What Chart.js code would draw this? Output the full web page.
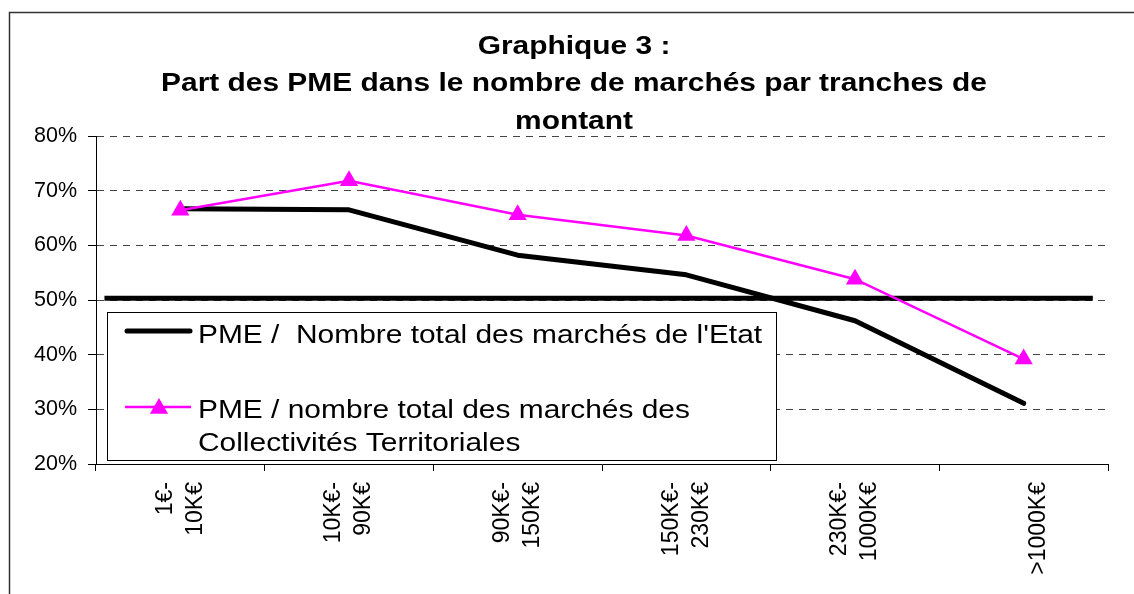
<!DOCTYPE html>
<html lang="fr">
<head>
<meta charset="utf-8">
<title>Graphique 3</title>
<script src="https://cdn.jsdelivr.net/npm/chart.js"></script>
<style>
  html, body { margin: 0; padding: 0; background: #fff; }
  canvas { display: block; }
</style>
</head>
<body>
<canvas id="chart" width="1134" height="594"></canvas>
<script>
const FONT = "'Liberation Sans', Arial, sans-serif";

const titleLines = [
  "Graphique 3 :",
  "Part des PME dans le nombre de marchés par tranches de",
  "montant",
];

// tranches de montant (libellés sur deux lignes)
const tranches = [
  ["1€-", "10K€"],
  ["10K€-", "90K€"],
  ["90K€-", "150K€"],
  ["150K€-", "230K€"],
  ["230K€-", "1000K€"],
  ["", ">1000K€"],
];

const partEtat = [66.7, 66.5, 58.2, 54.6, 46.2, 31.1];
const partCollectivites = [66.4, 71.8, 65.6, 61.8, 53.8, 39.2];

// trait horizontal des 50 %
const seuil = 50.3;
const seuilDebut = 0.05;
const seuilFin = 5.91;

const legendeEtat = ["PME /  Nombre total des marchés de l'Etat"];
const legendeCollectivites = ["PME / nombre total des marchés des", "Collectivités Territoriales"];

const yMin = 20;
const yMax = 80;
const yStep = 10;

const STRETCH = 1.15;

function stretchedText(ctx, text, x, y) {
  ctx.save();
  ctx.translate(x, y);
  ctx.scale(STRETCH, 1);
  ctx.fillText(text, 0, 0);
  ctx.restore();
}

const decor = {
  id: "decor",
  beforeDraw(chart) {
    const ctx = chart.ctx;
    ctx.save();
    ctx.fillStyle = "#fff";
    ctx.fillRect(0, 0, chart.width, chart.height);
    ctx.strokeStyle = "#333";
    ctx.lineWidth = 1.5;
    ctx.strokeRect(9.5, 12.5, chart.width + 20, chart.height + 20);
    ctx.restore();
  },
  afterDraw(chart) {
    const ctx = chart.ctx;
    ctx.save();

    // titre
    ctx.fillStyle = "#000";
    ctx.font = "bold 26px " + FONT;
    ctx.textAlign = "center";
    ctx.textBaseline = "alphabetic";
    titleLines.forEach((t, i) => stretchedText(ctx, t, 574, 53.5 + i * 37.5));

    // légende
    ctx.fillStyle = "#fff";
    ctx.fillRect(107.5, 312.5, 669, 148);
    ctx.strokeStyle = "#000";
    ctx.lineWidth = 1;
    ctx.strokeRect(107.5, 312.5, 669, 148);

    const dsEtat = chart.data.datasets[1];
    const dsColl = chart.data.datasets[0];

    ctx.lineCap = "round";
    ctx.strokeStyle = dsEtat.borderColor;
    ctx.lineWidth = dsEtat.borderWidth;
    ctx.beginPath();
    ctx.moveTo(127, 331);
    ctx.lineTo(190, 331);
    ctx.stroke();

    ctx.lineCap = "butt";
    ctx.strokeStyle = dsColl.borderColor;
    ctx.lineWidth = dsColl.borderWidth;
    ctx.beginPath();
    ctx.moveTo(125, 407);
    ctx.lineTo(191, 407);
    ctx.stroke();

    const r = dsColl.pointRadius;
    const cx = 159, cy = 408.5;
    ctx.fillStyle = dsColl.pointBackgroundColor;
    ctx.beginPath();
    ctx.moveTo(cx, cy - r);
    ctx.lineTo(cx + r * 0.866, cy + r * 0.5);
    ctx.lineTo(cx - r * 0.866, cy + r * 0.5);
    ctx.closePath();
    ctx.fill();

    ctx.fillStyle = "#000";
    ctx.font = "26px " + FONT;
    ctx.textAlign = "left";
    legendeEtat.forEach((t, i) => stretchedText(ctx, t, 198, 342.5 + i * 33));
    legendeCollectivites.forEach((t, i) => stretchedText(ctx, t, 198, 417.5 + i * 33));

    ctx.restore();
  },
};

const ctx = document.getElementById("chart").getContext("2d");

const chart = new Chart(ctx, {
  type: "line",
  data: {
    labels: tranches,
    datasets: [
      {
        label: legendeCollectivites.join(" "),
        data: partCollectivites,
        borderColor: "#FF00FF",
        borderWidth: 2.5,
        pointStyle: "triangle",
        pointRadius: 10.5,
        pointBackgroundColor: "#FF00FF",
        pointBorderWidth: 0,
        tension: 0,
        order: 0,
      },
      {
        label: legendeEtat[0],
        data: partEtat,
        borderColor: "#000000",
        borderWidth: 5,
        borderCapStyle: "round",
        borderJoinStyle: "round",
        pointRadius: 0,
        tension: 0,
        order: 1,
      },
      {
        label: "50 %",
        data: [{ x: seuilDebut, y: seuil }, { x: seuilFin, y: seuil }],
        xAxisID: "x2",
        borderColor: "#000000",
        borderWidth: 5,
        pointRadius: 0,
        order: 2,
      },
    ],
  },
  options: {
    responsive: false,
    animation: false,
    layout: { padding: { top: 136, right: 26, bottom: 0, left: 0 } },
    plugins: {
      legend: { display: false },
      title: { display: false },
      tooltip: { enabled: false },
    },
    scales: {
      x: {
        type: "category",
        offset: true,
        grid: {
          offset: true,
          drawOnChartArea: false,
          drawTicks: true,
          tickLength: 7,
          color: "#000",
          tickColor: "#000",
        },
        border: { color: "#000", width: 1 },
        ticks: {
          autoSkip: false,
          minRotation: 90,
          maxRotation: 90,
          padding: 11,
          labelOffset: -15,
          color: "#000",
          font: { family: FONT, size: 23, lineHeight: 30 / 23 },
        },
        afterFit(scale) {
          scale.height = 130;
        },
      },
      x2: {
        type: "linear",
        display: false,
        min: 0,
        max: tranches.length,
      },
      y: {
        min: yMin,
        max: yMax,
        ticks: {
          stepSize: yStep,
          padding: 11,
          color: "#000",
          font: { family: FONT, size: 21.5 },
          callback: (v) => v + "%",
        },
        grid: {
          color: "#444",
          tickColor: "#000",
          tickLength: 8,
          tickBorderDash: [],
        },
        border: { color: "#000", width: 1, dash: [7, 6] },
        afterFit(scale) {
          scale.width = 96;
        },
      },
    },
  },
  plugins: [decor],
});
</script>
</body>
</html>
